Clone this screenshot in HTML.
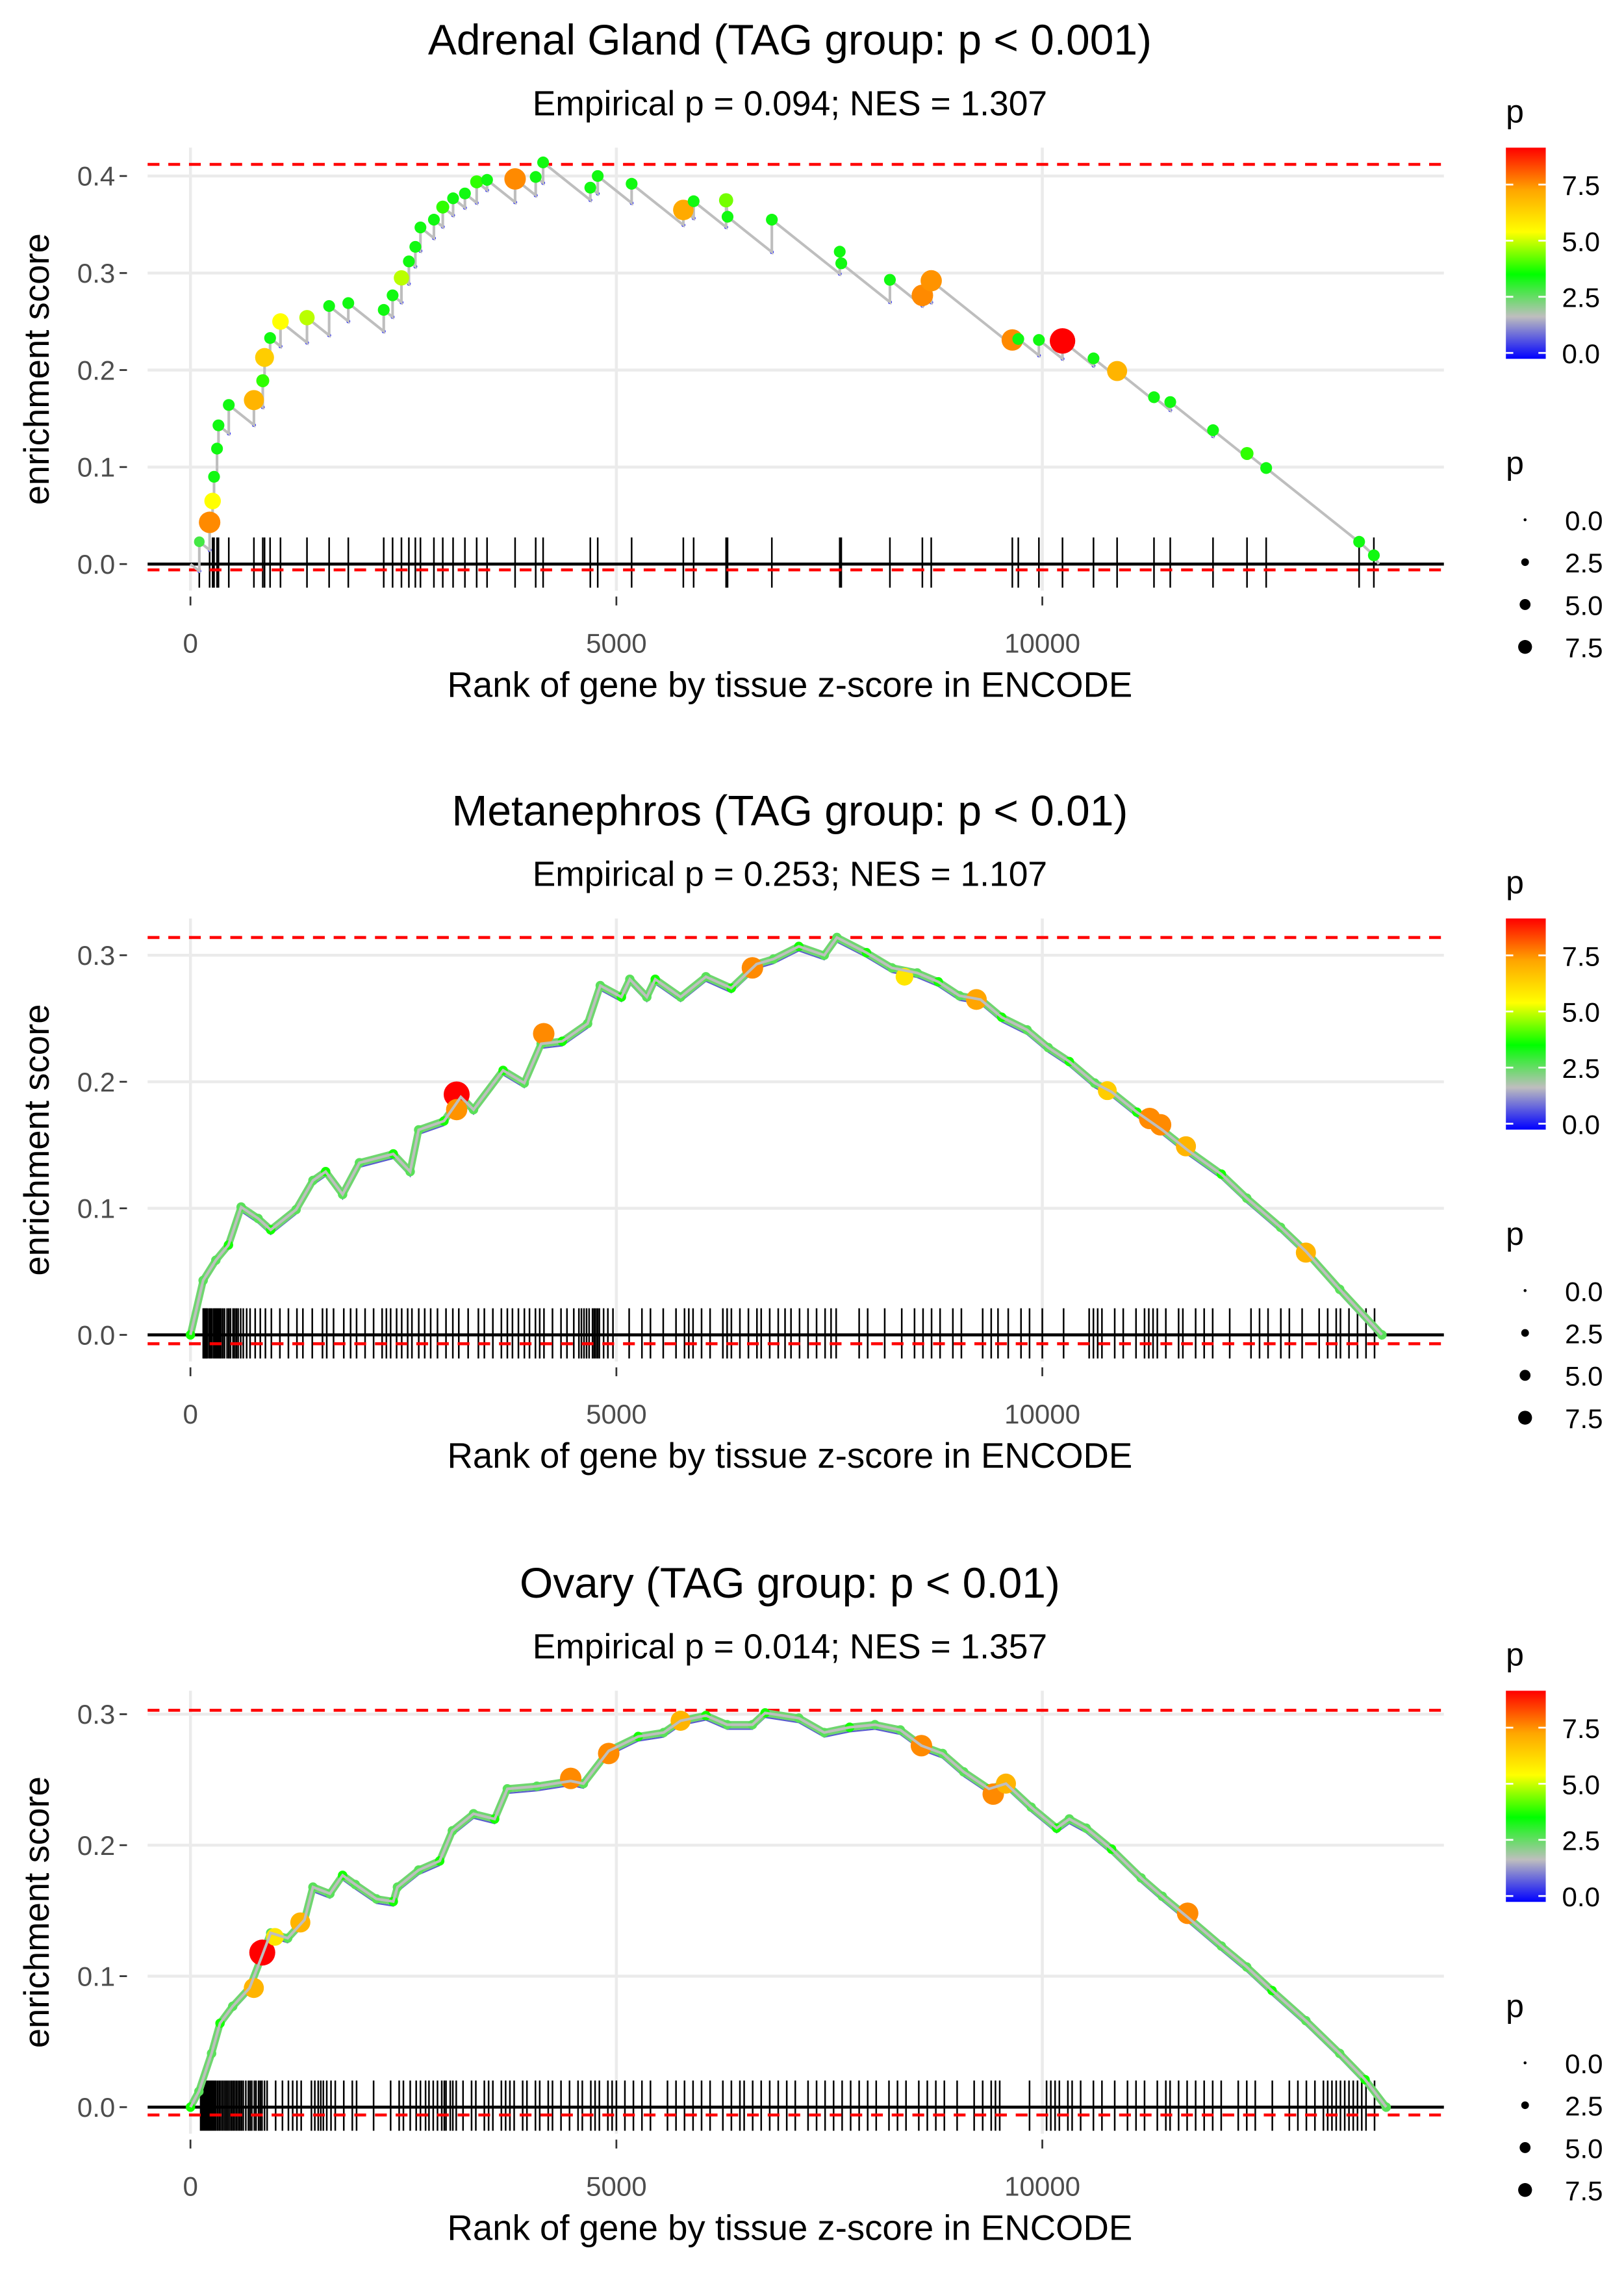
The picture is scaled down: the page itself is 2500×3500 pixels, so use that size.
<!DOCTYPE html>
<html><head><meta charset="utf-8"><style>
html,body{margin:0;padding:0;background:#fff;}
svg{display:block;font-family:"Liberation Sans",Arial,sans-serif;}
</style></head><body>
<svg id="chart" xmlns="http://www.w3.org/2000/svg" width="2500" height="3500" viewBox="0 0 1100 1540">
<rect width="1100" height="1540" fill="#fff"/>
<defs>
<linearGradient id="pgrad" x1="0" y1="1" x2="0" y2="0">
<stop offset="0" stop-color="#0000ff"/><stop offset="0.2" stop-color="#bebebe"/><stop offset="0.4" stop-color="#00ff00"/><stop offset="0.6" stop-color="#ffff00"/><stop offset="0.8" stop-color="#ffa500"/><stop offset="1" stop-color="#ff0000"/>
</linearGradient>
</defs>
</svg>
<script>
// ---- Panel 1 data: Adrenal Gland ----
const p1Rank = [104,225,260,277,312,329,450,745,849,870,935,1057,1368,1628,1853,2269,2373,2477,2564,2640,2700,2858,2962,3083,3222,3360,3482,3811,4053,4140,4694,4781,5179,5786,5907,6288,6305,6825,7622,7640,8211,8592,8696,9648,9718,9960,10237,10601,10878,11311,11502,12004,12403,12628,13719,13892];
const p1Es = [0.023,0.043,0.065,0.090,0.119,0.143,0.164,0.169,0.189,0.213,0.233,0.250,0.254,0.266,0.269,0.262,0.277,0.295,0.312,0.327,0.347,0.355,0.368,0.377,0.382,0.394,0.396,0.397,0.399,0.414,0.388,0.400,0.392,0.365,0.374,0.375,0.358,0.355,0.322,0.310,0.293,0.277,0.292,0.231,0.232,0.231,0.230,0.212,0.199,0.172,0.167,0.138,0.114,0.099,0.023,0.009];
const p1P = [3,7.6,5.5,3.5,3.5,3.5,3.5,7,4,6.5,3.5,5.5,5,3.5,3.5,3.5,3.5,5,3.5,3.5,3.5,3.5,4,3.5,3.5,4,3.5,7.6,3.5,3.5,3.5,3.5,3.5,7.2,3.5,4.5,3.5,3.5,3.5,3.5,3.5,7.6,7.5,7.6,3.5,3.5,9.3,3.5,7,3.5,3.5,3.5,4,3.5,3.5,3.5];
const p1Ticks = [0,0.1,0.2,0.3,0.4];
// ---- Panel 2 data: Metanephros ----
const p2CurveRank = [0,149,298,446,595,794,942,1240,1438,1587,1786,1984,2381,2579,2679,2976,3174,3323,3670,3918,4117,4365,4662,4811,5059,5158,5357,5456,5754,6051,6349,6646,6845,7142,7440,7589,7936,8234,8531,8779,9027,9275,9523,9821,10069,10317,10614,10813,11110,11408,11706,12102,12400,12797,13094,13491,13987];
const p2CurveEs = [0,0.043,0.059,0.071,0.101,0.092,0.083,0.099,0.122,0.129,0.111,0.136,0.143,0.129,0.162,0.169,0.188,0.178,0.209,0.199,0.230,0.232,0.246,0.276,0.267,0.281,0.267,0.281,0.267,0.283,0.274,0.293,0.297,0.307,0.300,0.314,0.302,0.290,0.286,0.279,0.268,0.265,0.251,0.241,0.227,0.216,0.199,0.192,0.176,0.162,0.146,0.127,0.108,0.085,0.066,0.036,0];
const p2BigRank = [3125,3125,4147,6597,8382,9226,10763,11260,11388,11686,13094];
const p2BigEs = [0.190,0.178,0.238,0.290,0.283,0.265,0.193,0.171,0.166,0.149,0.065];
const p2BigP = [9.5,7.5,7.6,7.6,6,7.3,6.5,7.6,7.6,7,7];
const p2Rug = [150,160,170,180,190,200,220,235,250,270,285,300,315,330,345,360,380,400,430,450,470,500,520,540,560,590,620,660,700,760,820,880,950,1050,1150,1250,1320,1430,1550,1600,1680,1800,1880,1950,2050,2150,2250,2300,2350,2420,2480,2550,2600,2680,2750,2820,2900,3000,3080,3150,3260,3380,3450,3550,3650,3720,3780,3850,3920,3980,4050,4100,4150,4250,4350,4420,4500,4560,4590,4620,4650,4680,4720,4740,4760,4780,4800,4850,4900,4960,5150,5300,5400,5550,5700,5800,5850,5900,6000,6100,6250,6300,6350,6450,6550,6650,6700,6800,6900,6980,7050,7150,7250,7350,7450,7520,7580,7850,7950,8150,8350,8500,8600,8700,8800,8950,9050,9300,9400,9480,9600,9750,9850,10000,10250,10550,10600,10650,10700,10850,10950,11100,11200,11250,11300,11350,11450,11600,11650,11800,11900,12000,12200,12450,12550,12650,12800,12900,13050,13250,13350,13450,13500,13600,13700,13800,13900];
const p2Ticks = [0,0.1,0.2,0.3];
// ---- Panel 3 data: Ovary ----
const p3CurveRank = [0,99,248,347,496,694,843,942,1141,1339,1438,1637,1786,1935,2183,2381,2430,2679,2926,3075,3323,3571,3720,4067,4464,4613,4910,5257,5555,5754,6051,6300,6597,6746,7142,7440,7738,8035,8333,8581,8829,9077,9374,9573,9870,10168,10317,10515,10813,11160,11408,11706,12102,12400,12697,13094,13491,13789,14037];
const p3CurveEs = [0,0.012,0.041,0.064,0.077,0.091,0.116,0.133,0.129,0.143,0.168,0.163,0.177,0.170,0.159,0.157,0.168,0.181,0.188,0.211,0.224,0.220,0.243,0.245,0.249,0.247,0.272,0.283,0.286,0.295,0.299,0.292,0.292,0.301,0.297,0.286,0.290,0.292,0.288,0.276,0.270,0.256,0.243,0.247,0.229,0.213,0.220,0.213,0.197,0.175,0.161,0.145,0.123,0.107,0.089,0.066,0.041,0.021,0];
const p3BigRank = [843,744,1290,992,4464,4910,5754,8581,9424,9573,11706];
const p3BigEs = [0.118,0.091,0.141,0.130,0.251,0.270,0.295,0.276,0.239,0.247,0.148];
const p3BigP = [9.5,7,7,6,7.6,7.6,7,7.6,7.6,7,7.6];
const p3Rug = [120,135,150,165,180,195,210,225,240,255,270,285,300,320,340,360,380,400,420,440,460,480,500,520,540,560,580,600,620,650,680,700,720,750,770,800,820,840,870,900,1000,1080,1150,1200,1250,1300,1420,1460,1500,1530,1560,1600,1650,1700,1800,1900,1950,2150,2350,2450,2500,2580,2650,2700,2760,2800,2850,2900,2950,2980,3000,3050,3080,3120,3200,3300,3350,3450,3500,3550,3650,3700,3750,3800,3900,3950,4050,4100,4200,4250,4350,4450,4550,4600,4700,4750,4800,4900,4950,5000,5100,5200,5300,5400,5600,5700,5800,5900,6000,6100,6250,6350,6450,6500,6600,6700,6800,6900,7000,7100,7250,7350,7450,7550,7650,7750,7850,7950,8050,8200,8300,8400,8550,8650,8750,8850,9000,9200,9300,9400,9450,9500,9850,10050,10100,10150,10200,10300,10350,10450,10600,10700,10850,11000,11100,11200,11350,11450,11500,11600,11700,11800,11900,12000,12100,12300,12400,12500,12700,12900,13000,13100,13200,13300,13350,13400,13450,13500,13550,13600,13650,13700,13750,13800,13900];
const p3Ticks = [0,0.1,0.2,0.3];
const xTicks = [0,5000,10000];
const legendColorTicks = [0,2.5,5,7.5];
const legendSizeValues = [0,2.5,5,7.5];

const svg = document.getElementById('chart');
const NS = 'http://www.w3.org/2000/svg';
function mk(tag, attrs, parent){ const e=document.createElementNS(NS,tag); for(const k in attrs) e.setAttribute(k,attrs[k]); (parent||svg).appendChild(e); return e; }
function txt(x,y,s,size,anchor,fill,parent){ const e=mk('text',{x:x,y:y,'font-size':size,'text-anchor':anchor||'middle',fill:fill||'#000'},parent); e.textContent=s; return e; }

const stops=[[0,[0,0,255]],[1.83,[190,190,190]],[3.66,[0,255,0]],[5.5,[255,255,0]],[7.3,[255,165,0]],[9.14,[255,0,0]]];
function pColor(p){ if(p<=0) return 'rgb(0,0,255)'; for(let i=1;i<stops.length;i++){ if(p<=stops[i][0]){ const a=stops[i-1],b=stops[i]; const t=(p-a[0])/(b[0]-a[0]); const c=a[1].map((v,j)=>Math.round(v+(b[1][j]-v)*t)); return 'rgb('+c.join(',')+')'; } } return 'rgb(255,0,0)'; }
function pRadius(p){ return 1.2+p*0.8; }

const X0=129, XPX=288.5/5000, PL=100, PR=978;
const xs = r => X0 + r*XPX;

function panel(idx, off, y0, per01, maxEs, title, sub, ticks){
  const g = mk('g',{});
  
  
  const ys = v => y0 - v*per01*10;
  const top=100+off, bot=400+off;
  const t=txt(535,37+off,title,29,'middle','#000',g);
   
  const s=txt(535,78+off,sub,23.5,'middle','#000',g);
   
  ticks.forEach(v=>{
    const l=mk('line',{x1:PL,x2:PR,y1:ys(v),y2:ys(v),stroke:'#ebebeb','stroke-width':2},g);
     
    mk('line',{x1:81,x2:86,y1:ys(v),y2:ys(v),stroke:'#333','stroke-width':1.2},g);
    const tl=txt(78,ys(v)+6.5,v.toFixed(1),18.5,'end','#4d4d4d',g);
     
  });
  xTicks.forEach(v=>{
    const l=mk('line',{x1:xs(v),x2:xs(v),y1:top,y2:bot,stroke:'#ebebeb','stroke-width':2},g);
     
    mk('line',{x1:xs(v),x2:xs(v),y1:bot+4,y2:bot+10,stroke:'#333','stroke-width':1.2},g);
    const tl=txt(xs(v),bot+42,String(v),18.5,'middle','#4d4d4d',g);
     
  });
  const xt=txt(535,bot+72,'Rank of gene by tissue z-score in ENCODE',24,'middle','#000',g);
   
  const yt=mk('text',{x:0,y:0,'font-size':24,'text-anchor':'middle',transform:'translate(33,'+(250+off)+') rotate(-90)'},g);
  yt.textContent='enrichment score';
   
  const lt=txt(1020,83+off,'p',22,'start','#000',g);
   
  const cb=mk('rect',{x:1020,y:100+off,width:27,height:143,fill:'url(#pgrad)'},g);
   
  legendColorTicks.forEach(v=>{
    const yy=239+off-v*15.2;
    mk('line',{x1:1020,x2:1025,y1:yy,y2:yy,stroke:'#fff','stroke-width':1.2},g);
    mk('line',{x1:1042,x2:1047,y1:yy,y2:yy,stroke:'#fff','stroke-width':1.2},g);
    const l=txt(1058,yy+7,v.toFixed(1),18.5,'start','#000',g);
     
  });
  const st=txt(1020,321+off,'p',22,'start','#000',g);
   
  const lr=[1,2.6,3.7,4.7];
  legendSizeValues.forEach((v,i)=>{
    const yy=352+off+i*28.7;
    const c=mk('circle',{cx:1033,cy:yy,r:lr[i],fill:'#000'},g);
     
    const l=txt(1060,yy+7,v.toFixed(1),18.5,'start','#000',g);
     
  });
  return {g, ys, top, bot};
}

function refLines(P, y0, maxEs, minEs){
  const z=mk('line',{x1:PL,x2:PR,y1:y0,y2:y0,stroke:'#000','stroke-width':2},P.g);
   
  [maxEs,minEs].forEach((v,i)=>{
    const l=mk('line',{x1:PL,x2:PR,y1:P.ys(v),y2:P.ys(v),stroke:'#ff0000','stroke-width':2,'stroke-dasharray':'8,6'},P.g);
     
  });
}
function rug(P, y0, ranks){
  ranks.forEach(r=>{
    const l=mk('line',{x1:xs(r),x2:xs(r),y1:y0-18,y2:y0+16,stroke:'#000','stroke-width':1.1},P.g);
     
  });
}

// Panel 1
(function(){
  const off=0, y0=382;
  const P=panel(1,off,y0,65.7,0.414,'Adrenal Gland (TAG group: p < 0.001)','Empirical p = 0.094; NES = 1.307',p1Ticks);
  rug(P,y0,p1Rank);
  const rate=7.0e-5;
  let d='M'+xs(0)+','+P.ys(0); let prevR=0, prevE=0; const bottoms=[];
  p1Rank.forEach((r,i)=>{
    const b=Math.min(prevE-rate*(r-prevR), p1Es[i]);
    bottoms.push(b);
    d+=' L'+xs(r)+','+P.ys(b)+' L'+xs(r)+','+P.ys(p1Es[i]);
    prevR=r; prevE=p1Es[i];
  });
  d+=' L'+xs(13950)+','+P.ys(0);
  refLines(P,y0,0.412,-0.006);
  p1Rank.forEach((r,i)=>{
    const c=mk('circle',{cx:xs(r),cy:P.ys(bottoms[i]),r:1.3,fill:'#0000ff'},P.g);
     
  });
  const path=mk('path',{d:d,fill:'none',stroke:'#bebebe','stroke-width':1.8},P.g);
   
  p1Rank.forEach((r,i)=>{
    const c=mk('circle',{cx:xs(r),cy:P.ys(p1Es[i]),r:pRadius(p1P[i]),fill:pColor(p1P[i])},P.g);
     
  });
})();

function densePanel(idx, off, y0, per, maxEs, minEs, title, sub, ticks, cr, ce, br, be, bp, rg){
  const P=panel(idx,off,y0,per,maxEs,title,sub,ticks);
  rug(P,y0,rg);
  refLines(P,y0,maxEs,minEs);
  const pts=cr.map((r,i)=>xs(r)+','+P.ys(ce[i])).join(' ');
  const lo=cr.map((r,i)=>xs(r)+','+(P.ys(ce[i])+3)).join(' ');
  const blue=mk('polyline',{points:lo,fill:'none',stroke:'#5a5ad0','stroke-width':1},P.g);
   
  const band=mk('polyline',{points:pts,fill:'none',stroke:'#6fd66f','stroke-width':5,'stroke-linejoin':'round'},P.g);
   
  cr.forEach((r,i)=>{
    const c=mk('circle',{cx:xs(r),cy:P.ys(ce[i]),r:3.2,fill:i%3===0?pColor(3.8):pColor(2.8)},P.g);
     
  });
  br.forEach((r,i)=>{
    const c=mk('circle',{cx:xs(r),cy:P.ys(be[i]),r:pRadius(bp[i]),fill:pColor(bp[i])},P.g);
     
  });
  const line=mk('polyline',{points:pts,fill:'none',stroke:'#bebebe','stroke-width':1.8},P.g);
   
}
densePanel(2,522,904,85.7,0.314,-0.007,'Metanephros (TAG group: p < 0.01)','Empirical p = 0.253; NES = 1.107',p2Ticks,p2CurveRank,p2CurveEs,p2BigRank,p2BigEs,p2BigP,p2Rug);
densePanel(3,1045,1427,88.7,0.303,-0.006,'Ovary (TAG group: p < 0.01)','Empirical p = 0.014; NES = 1.357',p3Ticks,p3CurveRank,p3CurveEs,p3BigRank,p3BigEs,p3BigP,p3Rug);
</script>
</body></html>
